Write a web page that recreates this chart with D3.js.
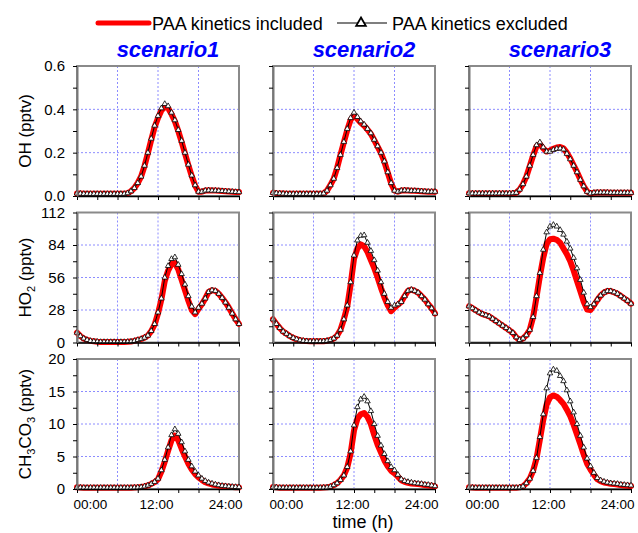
<!DOCTYPE html>
<html>
<head>
<meta charset="utf-8">
<script src="https://cdn.jsdelivr.net/npm/d3@7"></script>
<style>
  body { margin: 0; background: #fff; }
  svg { font-family: "Liberation Sans", Arial, sans-serif; }
</style>
</head>
<body>
<div id="chart"></div>
<script>
// time of day (h)
const hours = [0, 0.5, 1, 1.5, 2, 2.5, 3, 3.5, 4, 4.5, 5, 5.5,
  6, 6.5, 7, 7.5, 8, 8.5, 9, 9.5, 10, 10.5, 11, 11.5,
  12, 12.5, 13, 13.5, 14, 14.5, 15, 15.5, 16, 16.5, 17, 17.5,
  18, 18.5, 19, 19.5, 20, 20.5, 21, 21.5, 22, 22.5, 23, 23.5, 24]

const scenarios = ['scenario1', 'scenario2', 'scenario3']
const seriesNames = ['PAA kinetics included', 'PAA kinetics excluded']

// OH (pptv)
const oh1Ex = [0.012, 0.011, 0.01, 0.01, 0.01, 0.01, 0.01, 0.01, 0.01, 0.01, 0.01, 0.01,
  0.01, 0.01, 0.01, 0.013, 0.022, 0.037, 0.06, 0.09, 0.14, 0.2, 0.265, 0.325,
  0.37, 0.405, 0.425, 0.415, 0.385, 0.35, 0.305, 0.255, 0.2, 0.145, 0.095, 0.05,
  0.02, 0.02, 0.025, 0.026, 0.025, 0.025, 0.024, 0.023, 0.022, 0.021, 0.02, 0.019, 0.018]
const oh1In = [0.012, 0.011, 0.01, 0.01, 0.01, 0.01, 0.01, 0.01, 0.01, 0.01, 0.01, 0.01,
  0.01, 0.01, 0.01, 0.013, 0.022, 0.037, 0.06, 0.09, 0.138, 0.197, 0.26, 0.318,
  0.36, 0.395, 0.412, 0.405, 0.378, 0.345, 0.3, 0.25, 0.196, 0.142, 0.092, 0.048,
  0.02, 0.02, 0.025, 0.026, 0.025, 0.025, 0.024, 0.023, 0.022, 0.021, 0.02, 0.019, 0.018]
const oh2Ex = [0.015, 0.013, 0.012, 0.011, 0.01, 0.01, 0.01, 0.01, 0.01, 0.01, 0.01, 0.01,
  0.01, 0.01, 0.01, 0.012, 0.025, 0.05, 0.08, 0.13, 0.19, 0.25, 0.31, 0.36,
  0.385, 0.365, 0.345, 0.33, 0.31, 0.29, 0.26, 0.23, 0.2, 0.16, 0.11, 0.06,
  0.025, 0.02, 0.025, 0.026, 0.025, 0.024, 0.024, 0.023, 0.022, 0.021, 0.02, 0.02, 0.02]
const oh2In = [0.015, 0.013, 0.012, 0.011, 0.01, 0.01, 0.01, 0.01, 0.01, 0.01, 0.01, 0.01,
  0.01, 0.01, 0.01, 0.012, 0.025, 0.05, 0.08, 0.13, 0.19, 0.248, 0.305, 0.352,
  0.372, 0.355, 0.338, 0.325, 0.306, 0.287, 0.258, 0.228, 0.198, 0.158, 0.108, 0.058,
  0.025, 0.02, 0.025, 0.026, 0.025, 0.024, 0.024, 0.023, 0.022, 0.021, 0.02, 0.02, 0.02]
const oh3Ex = [0.013, 0.012, 0.012, 0.012, 0.012, 0.012, 0.012, 0.012, 0.012, 0.012, 0.012, 0.012,
  0.012, 0.013, 0.015, 0.03, 0.055, 0.09, 0.14, 0.19, 0.235, 0.248, 0.225, 0.205,
  0.205, 0.213, 0.218, 0.22, 0.215, 0.195, 0.17, 0.14, 0.11, 0.075, 0.045, 0.02,
  0.012, 0.015, 0.016, 0.016, 0.016, 0.016, 0.015, 0.015, 0.015, 0.015, 0.015, 0.015, 0.015]
const oh3In = [0.013, 0.012, 0.012, 0.012, 0.012, 0.012, 0.012, 0.012, 0.012, 0.012, 0.012, 0.012,
  0.012, 0.013, 0.015, 0.03, 0.055, 0.09, 0.138, 0.187, 0.23, 0.24, 0.22, 0.205,
  0.21, 0.218, 0.224, 0.226, 0.22, 0.2, 0.173, 0.142, 0.111, 0.076, 0.045, 0.02,
  0.012, 0.015, 0.016, 0.016, 0.016, 0.016, 0.015, 0.015, 0.015, 0.015, 0.015, 0.015, 0.015]

// HO2 (pptv)
const ho1Ex = [8.5, 5.5, 3.5, 2.2, 1.4, 1, 0.7, 0.5, 0.5, 0.5, 0.5, 0.5,
  0.5, 0.5, 0.5, 0.6, 0.8, 1.4, 2.2, 3, 4.2, 6, 10, 16,
  26, 38, 56, 66, 72, 73.5, 67, 59, 50, 40, 31, 26,
  30, 33.5, 38, 43.5, 45, 44.5, 42, 38.5, 34.5, 30, 25, 20, 16]
const ho1In = [8.5, 5.5, 3.5, 2.2, 1.4, 1, 0.7, 0.5, 0.5, 0.5, 0.5, 0.5,
  0.5, 0.5, 0.5, 0.6, 0.8, 1.4, 2.2, 3, 4.2, 6, 9.8, 15.5,
  25, 37, 53, 62, 67.5, 68.5, 63, 54, 45, 36, 28, 24.5,
  29, 33, 38, 43.5, 45, 44.5, 42, 38.5, 34.5, 30, 25, 20, 16]
const ho2Ex = [20, 16, 12.5, 9.5, 7.5, 5.5, 4, 2.8, 2, 1.5, 1.2, 1,
  1, 1, 1, 1.1, 1.5, 2.2, 3.5, 6, 11, 20, 32, 52,
  75, 88, 92, 92.5, 86, 79, 71, 62, 52, 42, 35, 30,
  32, 33, 35, 40, 44.5, 45.5, 44.5, 43, 40, 37, 33, 29.5, 25]
const ho2In = [20, 16, 12.5, 9.5, 7.5, 5.5, 4, 2.8, 2, 1.5, 1.2, 1,
  1, 1, 1, 1.1, 1.5, 2.2, 3.5, 6, 11, 20, 31, 50,
  72, 81, 84.5, 83, 78, 71, 64, 56, 47, 39, 32, 27,
  30, 32.5, 35, 40, 44.5, 45.5, 44.5, 43, 40, 37, 33, 29.5, 25]
const ho3Ex = [31.3, 29.6, 27.8, 26, 24.5, 23.5, 22.5, 20.5, 18.5, 16.5, 14.5, 12.5,
  10.5, 8.3, 4.5, 2.2, 3.5, 6.3, 11, 22, 40, 60, 80, 95,
  100, 101.4, 100, 97, 93, 87, 81, 73, 64, 54, 43, 33,
  30.5, 33, 37, 40.5, 43, 44.3, 44.3, 43.3, 42, 40, 38, 36, 33.5]
const ho3In = [31.3, 29.6, 27.8, 26, 24.5, 23.5, 22.5, 20.5, 18.5, 16.5, 14.5, 12.5,
  10.5, 8.3, 4.5, 2.2, 3.5, 6.3, 11, 22, 39, 57, 73, 85,
  89, 89.4, 88.5, 86, 81, 76, 70, 62, 53, 44, 35, 28.5,
  28, 32, 36.5, 40.5, 43, 44.3, 44.3, 43.3, 42, 40, 38, 36, 33.5]

// CH3CO3 (pptv)
const ch1Ex = [0.25, 0.22, 0.2, 0.2, 0.2, 0.2, 0.2, 0.2, 0.2, 0.2, 0.2, 0.2,
  0.2, 0.2, 0.2, 0.2, 0.2, 0.22, 0.25, 0.3, 0.4, 0.55, 0.8, 1.1,
  1.6, 2.9, 4.5, 6.4, 8.3, 9.2, 8.5, 7.2, 5.8, 4.5, 3.5, 2.7,
  2.1, 1.6, 1.25, 1.0, 0.85, 0.7, 0.6, 0.5, 0.45, 0.4, 0.35, 0.32, 0.3]
const ch1In = [0.25, 0.22, 0.2, 0.2, 0.2, 0.2, 0.2, 0.2, 0.2, 0.2, 0.2, 0.2,
  0.2, 0.2, 0.2, 0.2, 0.2, 0.22, 0.25, 0.3, 0.4, 0.55, 0.78, 1.05,
  1.5, 2.7, 4.2, 5.9, 7.5, 8.2, 7.5, 6.2, 5.0, 3.9, 3.0, 2.3,
  1.8, 1.4, 1.05, 0.85, 0.7, 0.6, 0.5, 0.45, 0.4, 0.35, 0.3, 0.28, 0.25]
const ch2Ex = [0.3, 0.25, 0.2, 0.2, 0.2, 0.2, 0.2, 0.2, 0.2, 0.2, 0.2, 0.2,
  0.2, 0.2, 0.2, 0.22, 0.25, 0.35, 0.6, 0.9, 1.4, 2.1, 3.4, 5.8,
  9.8, 12.6, 13.8, 14.2, 13.5, 12.0, 10.0, 8.2, 6.7, 5.4, 4.3, 3.4,
  2.9, 2.2, 1.5, 1.25, 1.1, 1.0, 0.9, 0.85, 0.8, 0.7, 0.65, 0.55, 0.45]
const ch2In = [0.3, 0.25, 0.2, 0.2, 0.2, 0.2, 0.2, 0.2, 0.2, 0.2, 0.2, 0.2,
  0.2, 0.2, 0.2, 0.22, 0.25, 0.35, 0.6, 0.9, 1.4, 2.1, 3.3, 5.5,
  9.0, 10.8, 11.5, 11.7, 11.1, 10.0, 8.3, 6.8, 5.6, 4.4, 3.5, 2.8,
  2.4, 1.9, 1.35, 1.1, 0.95, 0.85, 0.8, 0.75, 0.7, 0.6, 0.55, 0.5, 0.4]
const ch3Ex = [0.25, 0.22, 0.2, 0.2, 0.2, 0.2, 0.2, 0.2, 0.2, 0.2, 0.2, 0.2,
  0.2, 0.2, 0.2, 0.25, 0.4, 0.9, 1.6, 2.8, 4.8, 8.0, 11.5, 15.5,
  17.8, 18.4, 18.2, 17.4, 16.6, 15.2, 13.5, 11.8, 10.0, 8.2, 6.4, 4.7,
  3.5, 2.5, 1.7, 1.35, 1.15, 1.0, 0.9, 0.85, 0.8, 0.7, 0.65, 0.6, 0.55]
const ch3In = [0.25, 0.22, 0.2, 0.2, 0.2, 0.2, 0.2, 0.2, 0.2, 0.2, 0.2, 0.2,
  0.2, 0.2, 0.2, 0.25, 0.4, 0.9, 1.6, 2.8, 4.7, 7.6, 10.6, 13.0,
  14.1, 14.4, 14.2, 13.7, 13.1, 12.2, 11.2, 9.9, 8.4, 6.9, 5.3, 3.9,
  3.0, 2.2, 1.5, 1.2, 1.0, 0.9, 0.8, 0.75, 0.7, 0.6, 0.55, 0.5, 0.45]

const xTickLabels = ['00:00', '12:00', '24:00']

// rows of the figure (one species per row)
const rows = [
  {label: ['OH (pptv)'], domain: [0, 0.6], major: [0, 0.2, 0.4, 0.6], step: 0.1, fmt: d3.format('.1f'),
    included: [oh1In, oh2In, oh3In], excluded: [oh1Ex, oh2Ex, oh3Ex]},
  {label: ['HO', '2', ' (pptv)'], domain: [0, 112], major: [0, 28, 56, 84, 112], step: 14, fmt: d3.format('d'),
    included: [ho1In, ho2In, ho3In], excluded: [ho1Ex, ho2Ex, ho3Ex]},
  {label: ['CH', '3', 'CO', '3', ' (pptv)'], domain: [0, 20], major: [0, 5, 10, 15, 20], step: 2.5, fmt: d3.format('d'),
    included: [ch1In, ch2In, ch3In], excluded: [ch1Ex, ch2Ex, ch3Ex]}
]

const W = 638
const H = 533
const panelW = 162
const panelH = 130
const left0 = 77
const colStep = 196
const top0 = 66
const rowStep = 146.5
const red = '#ff0000'
const gridColor = '#8c8cff'

const svg = d3.select('#chart').append('svg')
    .attr('width', W)
    .attr('height', H)

const x = d3.scaleLinear().domain([0, 24]).range([0, panelW])

rows.forEach(function (row, r) {
  const y = d3.scaleLinear().domain(row.domain).range([panelH, 0])
  const minor = d3.range(row.domain[0], row.domain[1] + row.step / 2, row.step)

  scenarios.forEach(function (name, c) {
    const g = svg.append('g')
        .attr('transform', 'translate(' + (left0 + c * colStep) + ',' + (top0 + r * rowStep) + ')')

    // grid
    g.append('g').selectAll('line').data([6, 12, 18]).enter().append('line')
        .attr('x1', d => x(d)).attr('x2', d => x(d))
        .attr('y1', 0).attr('y2', panelH)
        .attr('stroke', gridColor).attr('stroke-width', 1).attr('stroke-dasharray', '2,2')
    g.append('g').selectAll('line').data(row.major.slice(1, -1)).enter().append('line')
        .attr('x1', 0).attr('x2', panelW)
        .attr('y1', d => y(d)).attr('y2', d => y(d))
        .attr('stroke', gridColor).attr('stroke-width', 1).attr('stroke-dasharray', '2,2')

    // frame
    g.append('rect')
        .attr('width', panelW).attr('height', panelH)
        .attr('fill', 'none').attr('stroke', '#8a8a8a').attr('stroke-width', 2)

    const line = d3.line()
        .x((d, i) => x(hours[i]))
        .y(d => y(d))

    // included: thick red
    g.append('path')
        .datum(row.included[c])
        .attr('d', line)
        .attr('fill', 'none').attr('stroke', red).attr('stroke-width', 6)
        .attr('stroke-linejoin', 'round').attr('stroke-linecap', 'round')

    // excluded: black line with open triangles
    g.append('path')
        .datum(row.excluded[c])
        .attr('d', line)
        .attr('fill', 'none').attr('stroke', '#000').attr('stroke-width', 1)
    const tri = d3.symbol(d3.symbolTriangle).size(13)
    g.append('g').selectAll('path').data(row.excluded[c]).enter().append('path')
        .attr('d', tri)
        .attr('transform', (d, i) => 'translate(' + x(hours[i]) + ',' + y(d) + ')')
        .attr('fill', '#fff').attr('stroke', '#000').attr('stroke-width', 0.8)

    // x axis
    const xAxis = d3.axisBottom(x)
        .tickValues([0, 3, 6, 9, 12, 15, 18, 21, 24])
        .tickSize(4).tickSizeOuter(0)
        .tickFormat(d => (r === rows.length - 1 && d % 12 === 0) ? xTickLabels[d / 12] : '')
    const gx = g.append('g')
        .attr('transform', 'translate(0,' + panelH + ')')
        .call(xAxis)
    gx.select('.domain').attr('stroke', '#000').attr('stroke-width', 1.5)
    gx.selectAll('.tick line').attr('stroke', '#000')
    gx.selectAll('text').attr('y', 10).attr('font-size', 13.5).attr('fill', '#000')
        .attr('font-family', '"Liberation Sans", Arial, sans-serif')
        .attr('text-anchor', d => d === 0 ? 'start' : (d === 24 ? 'end' : 'middle'))
        .attr('dx', d => d === 0 ? -4 : (d === 24 ? 3 : -2))

    // y axis
    const yAxis = d3.axisLeft(y)
        .tickValues(minor)
        .tickSize(4).tickSizeOuter(0)
        .tickFormat(d => (c === 0 && row.major.some(m => Math.abs(m - d) < 1e-9)) ? row.fmt(d) : '')
    const gy = g.append('g').call(yAxis)
    gy.select('.domain').attr('stroke', '#777').attr('stroke-width', 2)
    gy.selectAll('.tick line').attr('stroke', '#000')
    gy.selectAll('text').attr('x', -12).attr('font-size', 15).attr('fill', '#000')
        .attr('font-family', '"Liberation Sans", Arial, sans-serif')

    // column titles
    if (r === 0) {
      svg.append('text')
          .attr('x', left0 + c * colStep + panelW / 2 + 10)
          .attr('y', 57)
          .attr('text-anchor', 'middle')
          .attr('fill', '#0000ff')
          .attr('font-size', 22)
          .attr('font-weight', 'bold')
          .attr('font-style', 'italic')
          .text(name)
    }
  })

  // row label with subscripts
  const cy = top0 + r * rowStep + panelH / 2
  const t = svg.append('text')
      .attr('transform', 'translate(31,' + cy + ')rotate(-90)')
      .attr('text-anchor', 'middle')
      .attr('font-size', 17)
      .attr('fill', '#000')
  row.label.forEach(function (part, i) {
    const sub = i % 2 === 1
    const prevSub = i > 0 && (i - 1) % 2 === 1
    t.append('tspan')
        .attr('font-size', sub ? 11 : 17)
        .attr('dy', sub ? 4 : (prevSub ? -4 : 0))
        .text(part)
  })
})

// x title
svg.append('text')
    .attr('x', 363).attr('y', 528)
    .attr('text-anchor', 'middle')
    .attr('font-size', 18)
    .text('time (h)')

// legend
const lg = svg.append('g')
lg.append('line')
    .attr('x1', 98).attr('x2', 149).attr('y1', 23).attr('y2', 23)
    .attr('stroke', red).attr('stroke-width', 5).attr('stroke-linecap', 'round')
lg.append('text')
    .attr('x', 152).attr('y', 29.5)
    .attr('font-size', 18)
    .text(seriesNames[0])
lg.append('line')
    .attr('x1', 337).attr('x2', 387).attr('y1', 23).attr('y2', 23)
    .attr('stroke', '#000').attr('stroke-width', 1.2)
lg.append('path')
    .attr('d', d3.symbol(d3.symbolTriangle).size(40))
    .attr('transform', 'translate(361,23)')
    .attr('fill', '#fff').attr('stroke', '#000').attr('stroke-width', 1.8)
lg.append('text')
    .attr('x', 392).attr('y', 29.5)
    .attr('font-size', 18)
    .text(seriesNames[1])
</script>
</body>
</html>
